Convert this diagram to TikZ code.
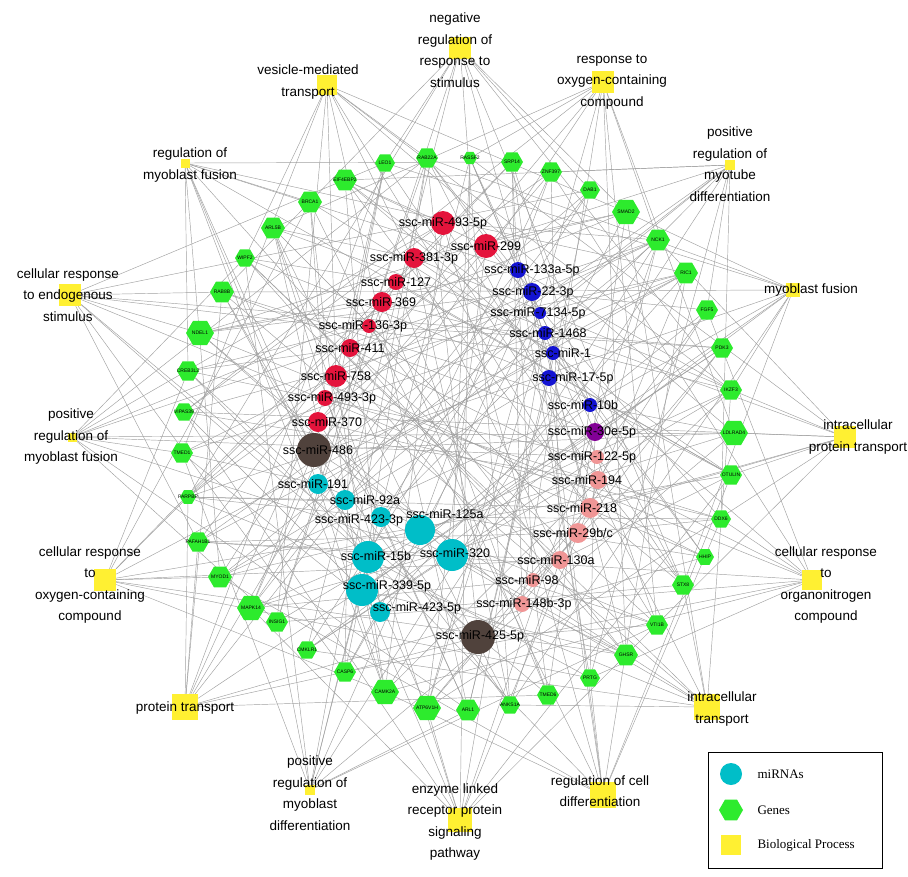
\documentclass[tikz,border=0pt]{standalone}
\usepackage{fontspec}
\setmainfont{Liberation Sans}
\newfontfamily\legfont{Liberation Serif}
\usetikzlibrary{shapes.geometric,backgrounds}
\definecolor{mred}{RGB}{228,20,60}
\definecolor{mblue}{RGB}{20,20,210}
\definecolor{mpurple}{RGB}{130,0,150}
\definecolor{mpink}{RGB}{240,150,150}
\definecolor{mbrown}{RGB}{80,66,60}
\definecolor{mcyan}{RGB}{0,190,200}
\definecolor{ggreen}{RGB}{45,235,45}
\definecolor{pyellow}{RGB}{255,240,50}
\tikzset{
 gene/.style={regular polygon,regular polygon sides=6,fill=ggreen,inner sep=0pt},
 genelab/.style={font=\fontsize{5}{5}\selectfont,inner sep=0pt},
 mir/.style={circle,inner sep=0pt},
 mirlab/.style={font=\fontsize{12.5}{14}\selectfont,inner sep=0pt},
 proc/.style={rectangle,fill=pyellow,inner sep=0pt},
 proclab/.style={font=\fontsize{13.5}{21.5}\selectfont,align=center,inner sep=0pt},
 edge/.style={draw=gray!75,line width=0.45pt}
}
\begin{document}
\begin{tikzpicture}[x=1pt,y=-1pt]
\useasboundingbox (0,0) rectangle (908,876);
% processes
\foreach \n/\x/\y/\s in {1/460/48/22,2/327/85/20,3/603/82/22,4/185/163/9,5/730/165/10,6/70/295/22,7/793/290/14,8/72/437/9,9/845/437/22,10/105/580/22,11/812/580/20,12/185/707/26,13/707/707/26,14/310/790/10,15/460/820/24,16/603/795/26}
  \node[proc,minimum size=\s pt] (p\n) at (\x,\y) {};
% genes
\foreach \n/\x/\y/\t/\s in {1/385/163/LEO1/20,2/427/158/RAB22A/22,3/470/158/RASSF2/14,4/512/162/SRP14/22,5/551/172/ZNF397/22,6/590/190/DAB1/20,7/626/212/SMAD2/28,8/658/240/NCK1/24,9/686/273/RIC1/24,10/707/310/FGF5/22,11/722/348/PDK3/22,12/731/390/IKZF3/22,13/734/433/LDLRAD4/28,14/731/475/OTULIN/22,15/721/519/DDX6/20,16/705/557/HHIP/18,17/683/585/STX8/22,18/657/625/VTI1B/22,19/626/655/GHSR/24,20/590/678/PRTG/20,21/548/695/TMED6/22,22/510/705/ANKS1A/20,23/468/710/ARL1/24,24/427/708/ATP6V1H/28,25/385/692/CAMK2A/28,26/345/672/CASP6/22,27/307/650/CMKLR1/20,28/277/622/INSIG1/22,29/251/608/MAPK14/28,30/220/577/MYOD1/24,31/198/542/PAFAH1B1/22,32/188/497/PARPBP/16,33/182/453/TMED1/22,34/184/412/VIPAS39/20,35/188/371/CREB3L2/22,36/200/333/NDEL1/28,37/222/292/RAB8B/24,38/245/258/WIPF2/20,39/273/228/ARL5B/24,40/310/202/BRCA1/24,41/345/180/EIF4EBP2/24}
  \node[gene,minimum size=\s pt,label={[genelab]center:\t}] (g\n) at (\x,\y) {};
% miRNAs
\foreach \n/\x/\y/\r/\c in {1/443/223/12/mred,2/486/246/12/mred,3/414/258/10/mred,4/396/282/8/mred,5/382/302/10/mred,6/369/326/7/mred,7/350/348/9/mred,8/336/376/11/mred,9/325/398/8/mred,10/318/422/10/mred,11/314/450/17/mbrown,12/518/270/8/mblue,13/532/292/9/mblue,14/540/313/6/mblue,15/545/333/7/mblue,16/553/353/7/mblue,17/549/378/8/mblue,18/590/405/7/mblue,19/595/432/9/mpurple,20/597/457/7/mpink,21/598/480/9/mpink,22/590/508/10/mpink,23/578/533/10/mpink,24/560/560/9/mpink,25/533/580/7/mpink,26/522/604/8/mpink,27/478/637/17/mbrown,28/318/484/10/mcyan,29/345/500/10/mcyan,30/381/517/10/mcyan,31/420/530/15/mcyan,32/368/557/16/mcyan,33/452/555/16/mcyan,34/362/590/16/mcyan,35/380/612/10/mcyan}
  \node[mir,fill=\c,minimum size=2*\r pt] (m\n) at (\x,\y) {};
% edges
\begin{scope}[on background layer]
\foreach \i in {1,...,35} \foreach \k in {0,9,17,26,33} {
  \pgfmathtruncatemacro{\j}{mod(\i*7+\k,41)+1}
  \draw[edge] (m\i) -- (g\j);}
\foreach \p in {1,...,16} \foreach \k in {0,...,8} {
  \pgfmathtruncatemacro{\j}{mod(\p*5+\k*5+\p,41)+1}
  \draw[edge] (p\p) -- (g\j);}
\foreach \p in {1,...,16} \foreach \k in {3,19} {
  \pgfmathtruncatemacro{\j}{mod(\p*2+\k,35)+1}
  \draw[edge] (p\p) -- (m\j);}
\end{scope}
% miRNA labels
\foreach \n/\x/\y/\t in {1/443/223/493-5p,2/486/246/299,3/414/258/381-3p,4/396/282/127,5/381/302/369,6/363/326/136-3p,7/350/348/411,8/336/376/758,9/332/398/493-3p,10/327/422/370,11/318/450/486,12/532/270/133a-5p,13/533/292/22-3p,14/538/313/7134-5p,15/548/333/1468,16/563/353/1,17/573/378/17-5p,18/583/405/10b,19/592/432/30e-5p,20/592/457/122-5p,21/587/480/194,22/582/508/218,23/573/533/{29b/c},24/556/560/130a,25/527/580/98,26/524/604/148b-3p,27/480/636/425-5p,28/313/484/191,29/365/500/92a,30/359/520/423-3p,31/445/514/125a,32/376/556/15b,33/455/553/320,34/387/586/339-5p,35/417/608/423-5p}
  \node[mirlab] (ml\n) at (\x,\y) {ssc-miR-\t};
% process labels
\node[proclab] (pl1) at (455,50) {negative\\regulation of\\response to\\stimulus};
\node[proclab] (pl2) at (308,82) {vesicle-mediated\\transport};
\node[proclab] (pl3) at (612,82) {response to\\oxygen-containing\\compound};
\node[proclab] (pl4) at (190,165) {regulation of\\myoblast fusion};
\node[proclab] (pl5) at (730,164) {positive\\regulation of\\myotube\\differentiation};
\node[proclab] (pl6) at (68,295) {cellular response\\to endogenous\\stimulus};
\node[proclab] (pl7) at (811,290) {myoblast fusion};
\node[proclab] (pl8) at (71,437) {positive\\regulation of\\myoblast fusion};
\node[proclab] (pl9) at (858,437) {intracellular\\protein transport};
\node[proclab] (pl10) at (90,585) {cellular response\\to\\oxygen-containing\\compound};
\node[proclab] (pl11) at (826,585) {cellular response\\to\\organonitrogen\\compound};
\node[proclab] (pl12) at (185,708) {protein transport};
\node[proclab] (pl13) at (722,709) {intracellular\\transport};
\node[proclab] (pl14) at (310,793) {positive\\regulation of\\myoblast\\differentiation};
\node[proclab] (pl15) at (455,822) {enzyme linked\\receptor protein\\signaling\\pathway};
\node[proclab] (pl16) at (600,791) {regulation of cell\\differentiation};
% legend
\node[draw=black,line width=1pt,fill=white,minimum width=174pt,minimum height=116pt,inner sep=0pt] (leg) at (795,810) {};
\node[mir,fill=mcyan,minimum size=22pt] (lm) at (731,774) {};
\node[gene,minimum size=24pt] (lg) at (731,810) {};
\node[proc,minimum size=20pt] (lp) at (731,845) {};
\node[anchor=west,font=\legfont\fontsize{13}{15}\selectfont] (lt1) at (754,774) {miRNAs};
\node[anchor=west,font=\legfont\fontsize{13}{15}\selectfont] (lt2) at (754,810) {Genes};
\node[anchor=west,font=\legfont\fontsize{13}{15}\selectfont] (lt3) at (754,845) {Biological Process};
\end{tikzpicture}
\end{document}
